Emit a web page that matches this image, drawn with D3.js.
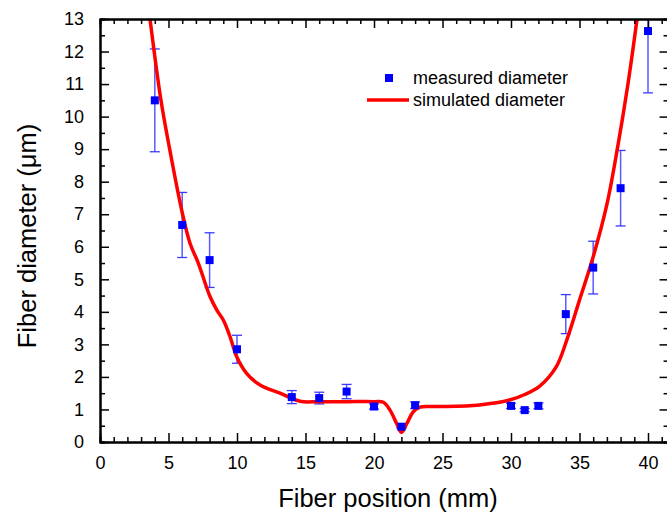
<!DOCTYPE html>
<html><head><meta charset="utf-8">
<script src="https://cdn.jsdelivr.net/npm/d3@7"></script>
<style>
body{margin:0;background:#fff;}
svg{display:block;font-family:Arial,"Liberation Sans",sans-serif;}
</style></head>
<body><svg id="c" width="667" height="515"></svg>
<script>
// measured data
const posX = [4, 6, 8, 10, 14, 16, 18, 20, 22, 23, 30, 31, 32, 34, 36, 38, 40];
const measured = [10.5, 6.67, 5.59, 2.85, 1.38, 1.35, 1.55, 1.09, 0.47, 1.13, 1.11, 0.98, 1.11, 3.93, 5.36, 7.80, 12.63];
const errors = [1.58, 1.0, 0.84, 0.43, 0.2, 0.18, 0.22, 0.08, 0.05, 0.1, 0.08, 0.05, 0.09, 0.6, 0.81, 1.16, 1.9];
// simulated curve
const simX = [3.65, 4.45, 5.1, 5.96, 6.57, 7.18, 8.03, 8.52, 9.0, 9.49, 9.98, 10.7, 11.68, 13.14, 14.6, 16, 18, 20, 20.68, 21.17, 21.65, 22.0, 22.4, 22.87, 23.36, 24.09, 25.06, 27.7, 29.9, 31.0, 32.1, 33.3, 34.07, 35.0, 36.0, 37.0, 37.8, 38.5, 39.2, 39.5];
const simY = [13, 10.5, 8.97, 7.13, 6.11, 5.49, 4.47, 4.06, 3.75, 3.24, 2.62, 2.11, 1.75, 1.50, 1.25, 1.24, 1.24, 1.24, 1.22, 0.98, 0.57, 0.3, 0.57, 0.93, 1.07, 1.09, 1.09, 1.14, 1.29, 1.46, 1.72, 2.31, 3.13, 4.36, 5.69, 7.3, 9.1, 10.9, 13, 14];
// ticks
const xMajor = [0, 5, 10, 15, 20, 25, 30, 35, 40];
const yMajor = [0, 1, 2, 3, 4, 5, 6, 7, 8, 9, 10, 11, 12, 13];
const labels = {x: "Fiber position (mm)", y: "Fiber diameter (\u03bcm)", meas: "measured diameter", sim: "simulated diameter"};

const svg = d3.select("#c");
const L = 100, T = 19, B = 442;
const x = d3.scaleLinear().domain([0, 41.5]).range([L, L + 41.5 * 13.7]);
const y = d3.scaleLinear().domain([0, 13]).range([B, T]);
const R = x(41.5);

svg.append("defs").append("clipPath").attr("id", "clip")
  .append("rect").attr("x", L).attr("y", T).attr("width", R - L).attr("height", B - T);

const plot = svg.append("g").attr("clip-path", "url(#clip)");

// error bars
const eb = plot.append("g");
posX.forEach((px, i) => {
  const cx = x(px), top = y(measured[i] + errors[i]), bot = y(measured[i] - errors[i]);
  eb.append("line").attr("x1", cx).attr("x2", cx).attr("y1", top).attr("y2", bot)
    .attr("stroke", "#5a5aff").attr("stroke-width", 1.5);
  [top, bot].forEach(v => eb.append("line").attr("x1", cx - 5).attr("x2", cx + 5).attr("y1", v).attr("y2", v)
    .attr("stroke", "#3a3aff").attr("stroke-width", 1.3));
});

// simulated line
const sim = simX.map((v, i) => [v, simY[i]]);
plot.append("path").datum(sim)
  .attr("d", d3.line().x(d => x(d[0])).y(d => y(d[1])).curve(d3.curveCatmullRom.alpha(0.5)))
  .attr("fill", "none").attr("stroke", "#ff0000").attr("stroke-width", 3.5);

// markers
plot.append("g").selectAll("rect").data(posX).join("rect")
  .attr("x", (d) => x(d) - 4).attr("y", (d, i) => y(measured[i]) - 4)
  .attr("width", 8).attr("height", 8).attr("fill", "#0000ff");

// axes
function styleAxis(g) {
  g.selectAll("path,line").attr("stroke", "#000");
  g.select(".domain").attr("stroke-width", 2);
  g.selectAll(".tick line").attr("stroke-width", 1.5);
  g.selectAll("text").attr("fill", "#000").attr("font-size", 18).attr("font-family", "Arial, 'Liberation Sans', sans-serif");
}
const xMinor = d3.range(0, 42, 1).filter(v => v % 5 !== 0);
const yMinor = d3.range(0.5, 13, 1);

// bottom
svg.append("g").attr("transform", `translate(0,${B})`)
  .call(d3.axisBottom(x).tickValues(xMinor).tickSize(-5).tickFormat("")).call(styleAxis);
svg.append("g").attr("transform", `translate(0,${B})`)
  .call(d3.axisBottom(x).tickValues(xMajor).tickSizeInner(-9).tickSizeOuter(0).tickPadding(14)).call(styleAxis);
// top
svg.append("g").attr("transform", `translate(0,${T})`)
  .call(d3.axisTop(x).tickValues(xMinor).tickSize(-5).tickFormat("")).call(styleAxis);
svg.append("g").attr("transform", `translate(0,${T})`)
  .call(d3.axisTop(x).tickValues(xMajor).tickSizeInner(-9).tickSizeOuter(0).tickFormat("")).call(styleAxis);
// left
svg.append("g").attr("transform", `translate(${L},0)`)
  .call(d3.axisLeft(y).tickValues(yMinor).tickSize(-5).tickFormat("")).call(styleAxis);
svg.append("g").attr("transform", `translate(${L},0)`)
  .call(d3.axisLeft(y).tickValues(yMajor).tickSizeInner(-9).tickSizeOuter(0).tickPadding(16)).call(styleAxis);
// right
svg.append("g").attr("transform", `translate(${R},0)`)
  .call(d3.axisRight(y).tickValues(yMinor).tickSize(-5).tickFormat("")).call(styleAxis);
svg.append("g").attr("transform", `translate(${R},0)`)
  .call(d3.axisRight(y).tickValues(yMajor).tickSizeInner(-9).tickSizeOuter(0).tickFormat("")).call(styleAxis);

// titles
svg.append("text").attr("x", 388).attr("y", 507).attr("text-anchor", "middle")
  .attr("font-size", 25.5).text(labels.x);
svg.append("text").attr("transform", "translate(36,236) rotate(-90)").attr("text-anchor", "middle")
  .attr("font-size", 25.5).text(labels.y);

// legend
const lg = svg.append("g");
lg.append("rect").attr("x", 385).attr("y", 74).attr("width", 8).attr("height", 8).attr("fill", "#0000ff");
lg.append("text").attr("x", 413).attr("y", 84).attr("font-size", 18).text(labels.meas);
lg.append("line").attr("x1", 367).attr("x2", 409).attr("y1", 100).attr("y2", 100)
  .attr("stroke", "#ff0000").attr("stroke-width", 3.5);
lg.append("text").attr("x", 413).attr("y", 106).attr("font-size", 18).text(labels.sim);
</script></body></html>
